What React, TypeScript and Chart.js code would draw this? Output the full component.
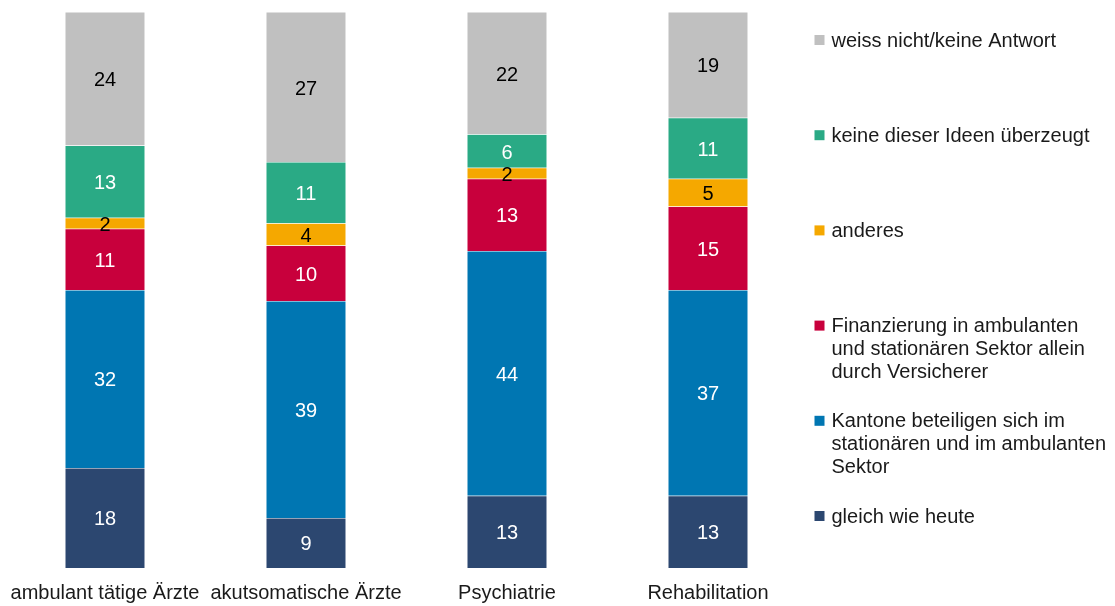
import React, { useEffect, useRef } from "react";
import { Chart, registerables } from "chart.js";

Chart.register(...registerables);

const categories = ["ambulant tätige Ärzte", "akutsomatische Ärzte", "Psychiatrie", "Rehabilitation"];

const seriesNames = [
  "gleich wie heute",
  "Kantone beteiligen sich im stationären und im ambulanten Sektor",
  "Finanzierung in ambulanten und stationären Sektor allein durch Versicherer",
  "anderes",
  "keine dieser Ideen überzeugt",
  "weiss nicht/keine Antwort",
];

const legendLines = [
  ["gleich wie heute"],
  ["Kantone beteiligen sich im", "stationären und im ambulanten", "Sektor"],
  ["Finanzierung in ambulanten", "und stationären Sektor allein", "durch Versicherer"],
  ["anderes"],
  ["keine dieser Ideen überzeugt"],
  ["weiss nicht/keine Antwort"],
];

const gleichWieHeute = [18, 9, 13, 13];
const kantone = [32, 39, 44, 37];
const finanzierung = [11, 10, 13, 15];
const anderes = [2, 4, 2, 5];
const keineIdee = [13, 11, 6, 11];
const weissNicht = [24, 27, 22, 19];

const colors = ["#2C4770", "#0076B2", "#C8003C", "#F5A800", "#2AAA85", "#C0C0C0"];
const labelColors = ["#FFFFFF", "#FFFFFF", "#FFFFFF", "#000000", "#FFFFFF", "#000000"];

const FONT = "Arial, 'Liberation Sans', sans-serif";
const FONT_SIZE = 20;

const valueLabelPlugin = {
  id: "valueLabels",
  afterDatasetsDraw(chart: any) {
    const ctx = chart.ctx;
    ctx.save();
    ctx.font = `${FONT_SIZE}px ${FONT}`;
    ctx.textAlign = "center";
    ctx.textBaseline = "middle";
    chart.data.datasets.forEach((ds: any, di: number) => {
      const meta = chart.getDatasetMeta(di);
      meta.data.forEach((el: any, i: number) => {
        const v = ds.data[i];
        const { x, y, base } = el.getProps(["x", "y", "base"], true);
        ctx.fillStyle = labelColors[di];
        ctx.fillText(String(v), x, (y + base) / 2 + 2);
      });
    });
    ctx.restore();
  },
};

const customLegendPlugin = {
  id: "customLegend",
  afterDraw(chart: any) {
    const ctx = chart.ctx;
    const x0 = chart.chartArea.right + 6;
    const firstY = 40;
    const step = 95.2;
    const lineH = 22.7;
    ctx.save();
    ctx.font = `${FONT_SIZE}px ${FONT}`;
    ctx.textBaseline = "middle";
    ctx.textAlign = "left";
    const n = chart.data.datasets.length;
    for (let k = 0; k < n; k++) {
      const di = n - 1 - k;
      const y = firstY + k * step;
      ctx.fillStyle = colors[di];
      ctx.fillRect(x0, y - 5, 10, 10);
      ctx.fillStyle = "#1a1a1a";
      legendLines[di].forEach((line, li) => {
        ctx.fillText(line, x0 + 17, y + li * lineH + 1);
      });
    }
    ctx.restore();
  },
};

export default function App() {
  const ref = useRef<HTMLCanvasElement>(null);

  useEffect(() => {
    if (!ref.current) return;
    const values = [gleichWieHeute, kantone, finanzierung, anderes, keineIdee, weissNicht];
    const chart = new Chart(ref.current, {
      type: "bar",
      data: {
        labels: categories,
        datasets: values.map((d, i) => ({
          label: seriesNames[i],
          data: d,
          backgroundColor: colors[i],
          borderColor: "rgba(255,255,255,0.35)",
          borderWidth: 0.5,
          barPercentage: 0.398,
          categoryPercentage: 1,
        })),
      },
      options: {
        animation: false,
        responsive: true,
        maintainAspectRatio: false,
        layout: { padding: { left: 4.5, right: 306.5, top: 12, bottom: 0 } },
        plugins: {
          legend: { display: false },
          tooltip: { enabled: false },
        },
        scales: {
          x: {
            stacked: true,
            grid: { display: false, drawTicks: false },
            border: { display: false },
            ticks: {
              color: "#1a1a1a",
              font: { family: FONT, size: FONT_SIZE },
              padding: 13,
              maxRotation: 0,
              autoSkip: false,
            },
            afterFit(scale: any) {
              scale.height = 38;
              scale.paddingLeft = 0;
              scale.paddingRight = 0;
            },
          },
          y: {
            stacked: true,
            display: false,
            min: 0,
            max: 100,
          },
        },
      },
      plugins: [valueLabelPlugin, customLegendPlugin],
    });
    return () => chart.destroy();
  }, []);

  return (
    <div style={{ position: "fixed", left: 0, top: 0, width: 1115, height: 606, background: "#fff" }}>
      <canvas ref={ref} />
    </div>
  );
}
